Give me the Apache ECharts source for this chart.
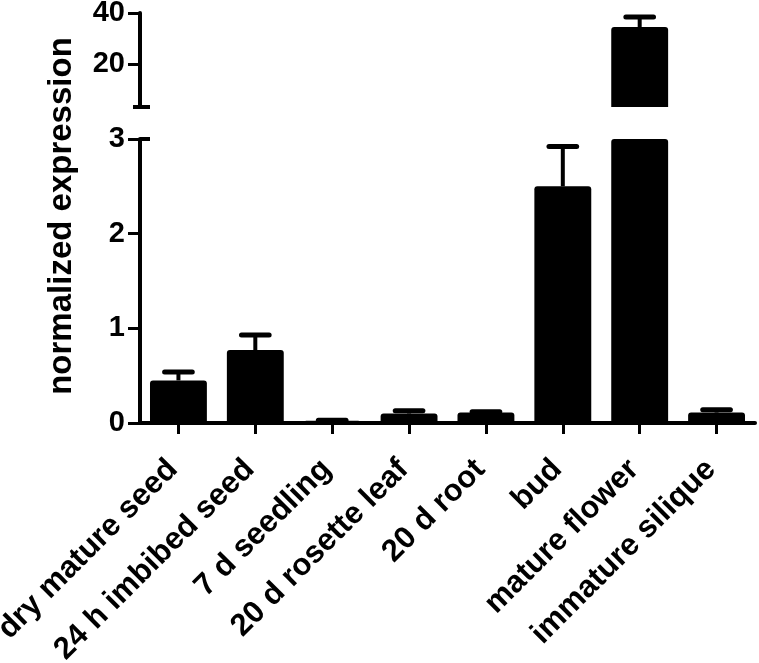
<!DOCTYPE html>
<html>
<head>
<meta charset="utf-8">
<script src="https://cdn.jsdelivr.net/npm/echarts@6/dist/echarts.min.js"></script>
<style>
html,body{margin:0;padding:0;background:#fff;}
#chart{width:759px;height:663px;}
</style>
</head>
<body>
<div id="chart"></div>
<script>
const categories = ['dry mature seed','24 h imbibed seed','7 d seedling','20 d rosette leaf','20 d root','bud','mature flower','immature silique'];
const means = [0.45, 0.77, 0.025, 0.10, 0.11, 2.50, 34.5, 0.11];
const errors = [0.09, 0.16, 0.005, 0.03, 0.01, 0.42, 3.9, 0.03];
const upperTicks = [20, 40];
const lowerTicks = [0, 1, 2, 3];
const yTitle = 'normalized expression';

const FONT = "'Liberation Sans', Arial, sans-serif";
const BREAK_LOW = 3, UPPER_MAX = 40, LOWER_MAX = 3;

const barData = means.slice();
const errAll = means.map((m, i) => [i, m, errors[i]]);
const errUpper = errAll.filter(d => d[1] > BREAK_LOW);
const errLower = errAll.filter(d => d[1] + d[2] <= LOWER_MAX);

function renderErr(params, api) {
  const x = api.value(0), m = api.value(1), e = api.value(2);
  const p0 = api.coord([x, m]);
  const p1 = api.coord([x, m + e]);
  const half = api.size([1, 0])[0] * 0.18;
  return {
    type: 'group',
    children: [
      {type: 'line', shape: {x1: p0[0], y1: p0[1], x2: p1[0], y2: p1[1]}, style: {stroke: '#000', lineWidth: 4}},
      {type: 'line', shape: {x1: p1[0] - half, y1: p1[1], x2: p1[0] + half, y2: p1[1]}, style: {stroke: '#000', lineWidth: 5, lineCap: 'round'}}
    ]
  };
}

const axisLineStyle = {show: true, lineStyle: {color: '#000', width: 4}};
const tickLabelStyle = {color: '#000', fontSize: 29, fontWeight: 'bold', fontFamily: FONT};
const catLabelStyle = {color: '#000', fontSize: 31, fontWeight: 'bold', fontFamily: FONT};

const chart = echarts.init(document.getElementById('chart'), null, {renderer: 'canvas'});
chart.setOption({
  animation: false,
  backgroundColor: '#fff',
  grid: [
    {left: 140, right: 4, top: 13, height: 94, containLabel: false, outerBoundsMode: 'none'},
    {left: 140, right: 4, top: 139, height: 284, containLabel: false, outerBoundsMode: 'none'}
  ],
  xAxis: [
    {gridIndex: 0, type: 'category', data: categories, show: false},
    {gridIndex: 1, type: 'category', data: categories,
     axisLine: axisLineStyle,
     axisTick: {show: true, alignWithLabel: true, length: 11, lineStyle: {color: '#000', width: 3}},
     axisLabel: Object.assign({rotate: 45, interval: 0, margin: 36, padding: [0, 8, 0, 0]}, catLabelStyle),
     splitLine: {show: false}}
  ],
  yAxis: [
    {gridIndex: 0, type: 'value', position: 'left', min: BREAK_LOW, max: UPPER_MAX,
     axisLine: axisLineStyle,
     axisTick: {show: true, length: 12, customValues: upperTicks, lineStyle: {color: '#000', width: 3}},
     axisLabel: Object.assign({margin: 15, customValues: upperTicks}, tickLabelStyle),
     splitLine: {show: false}},
    {gridIndex: 0, type: 'value', position: 'left', offset: 0, min: BREAK_LOW, max: UPPER_MAX,
     axisLine: {show: false},
     axisTick: {show: true, length: 7, customValues: [BREAK_LOW], lineStyle: {color: '#000', width: 4}},
     axisLabel: {show: false}, splitLine: {show: false}},
    {gridIndex: 0, type: 'value', position: 'left', offset: 0, min: BREAK_LOW, max: UPPER_MAX,
     axisLine: {show: false},
     axisTick: {show: true, inside: true, length: 10, customValues: [BREAK_LOW], lineStyle: {color: '#000', width: 4}},
     axisLabel: {show: false}, splitLine: {show: false}},
    {gridIndex: 1, type: 'value', position: 'left', min: 0, max: LOWER_MAX, interval: 1,
     axisLine: axisLineStyle,
     axisTick: {show: true, length: 12, lineStyle: {color: '#000', width: 3}},
     axisLabel: Object.assign({margin: 15, customValues: lowerTicks}, tickLabelStyle),
     splitLine: {show: false}},
    {gridIndex: 1, type: 'value', position: 'left', offset: 0, min: 0, max: LOWER_MAX,
     axisLine: {show: false},
     axisTick: {show: true, inside: true, length: 10, customValues: [LOWER_MAX], lineStyle: {color: '#000', width: 4}},
     axisLabel: {show: false}, splitLine: {show: false}}
  ],
  series: [
    {type: 'bar', xAxisIndex: 0, yAxisIndex: 0, data: barData, barWidth: '74%',
     itemStyle: {color: '#000', borderRadius: [3, 3, 0, 0]}, clip: true},
    {type: 'bar', xAxisIndex: 1, yAxisIndex: 3, data: barData, barWidth: '74%',
     itemStyle: {color: '#000', borderRadius: [3, 3, 0, 0]}, clip: true},
    {type: 'custom', xAxisIndex: 0, yAxisIndex: 0, data: errUpper, renderItem: renderErr, clip: true, z: 3},
    {type: 'custom', xAxisIndex: 1, yAxisIndex: 3, data: errLower, renderItem: renderErr, clip: true, z: 3}
  ],
  graphic: [
    {type: 'text', x: 62, y: 216, rotation: Math.PI / 2,
     style: {text: yTitle, fill: '#000', fontSize: 33, fontWeight: 'bold', fontFamily: FONT, align: 'center', verticalAlign: 'middle'}}
  ]
});
</script>
</body>
</html>
